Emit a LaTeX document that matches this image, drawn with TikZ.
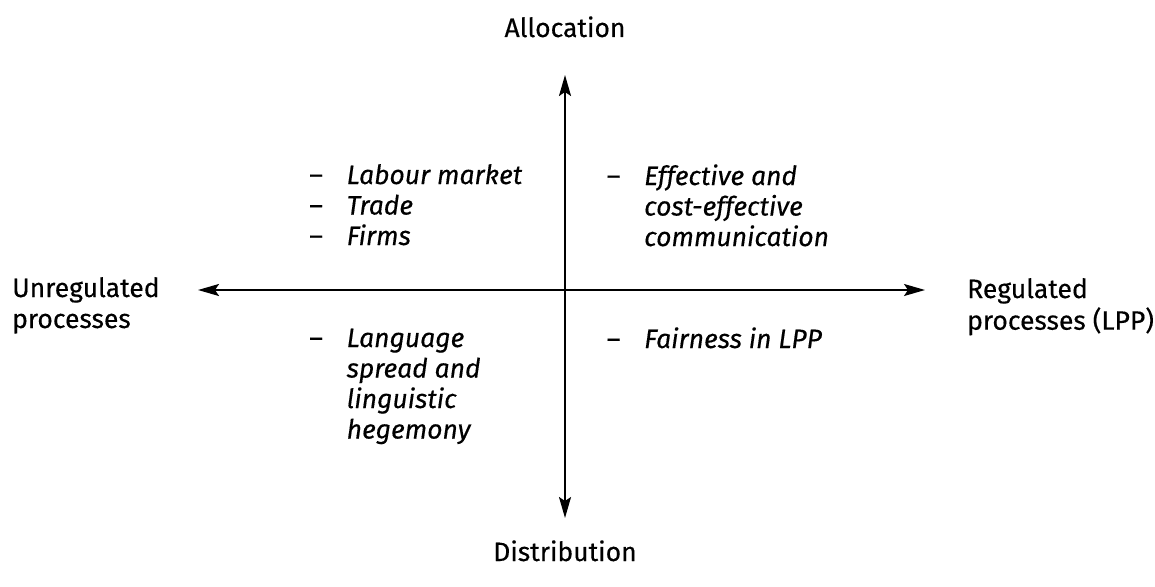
\documentclass[tikz,border=0pt]{standalone}
\usepackage{fontspec}
\setmainfont{Fira Sans}[FakeBold=0.35]
\usetikzlibrary{arrows.meta}
\begin{document}
\begin{tikzpicture}[x=1pt,y=-1pt,
  lbl/.style={font=\fontsize{26.5}{31}\selectfont, inner sep=0pt, align=left},
  lst/.style={font=\fontsize{26.5}{30.5}\selectfont\itshape, inner sep=0pt, anchor=base west},
  axis/.style={line width=1.9pt, -{Stealth[length=21pt,width=12pt,inset=4pt]}}]
\useasboundingbox (0,0) rectangle (1155,586);
\coordinate (top) at (565,75);
\coordinate (bot) at (565,518);
\coordinate (lft) at (198,290);
\coordinate (rgt) at (925,290);
\coordinate (c) at (565,290);
\draw[axis] (c) -- (top);
\draw[axis] (c) -- (bot);
\draw[axis] (c) -- (lft);
\draw[axis] (c) -- (rgt);
\node[lbl, anchor=base] (alloc) at (565,37) {Allocation};
\node[lbl, anchor=base] (distr) at (565,561) {Distribution};
\node[lbl, anchor=base west] (unreg) at (12,297) {\begin{tabular}[t]{@{}l@{}}Unregulated\\processes\end{tabular}};
\node[lbl, anchor=base west] (reg) at (967,298) {\begin{tabular}[t]{@{}l@{}}Regulated\\processes (LPP)\end{tabular}};
\node[lst] (tl) at (309,184) {\begin{tabular}[t]{@{}p{37.5pt}@{}l@{}}\upshape--&Labour market\\ \upshape--&Trade\\ \upshape--&Firms\end{tabular}};
\node[lst] (tr) at (606.5,185) {\begin{tabular}[t]{@{}p{37.5pt}@{}l@{}}\upshape--&Effective and\\ &cost-effective\\ &communication\end{tabular}};
\node[lst] (bl) at (309,347) {\begin{tabular}[t]{@{}p{37.5pt}@{}l@{}}\upshape--&Language\\ &spread and\\ &linguistic\\ &hegemony\end{tabular}};
\node[lst] (br) at (606.5,348) {\begin{tabular}[t]{@{}p{37.5pt}@{}l@{}}\upshape--&Fairness in LPP\end{tabular}};
\end{tikzpicture}
\end{document}
